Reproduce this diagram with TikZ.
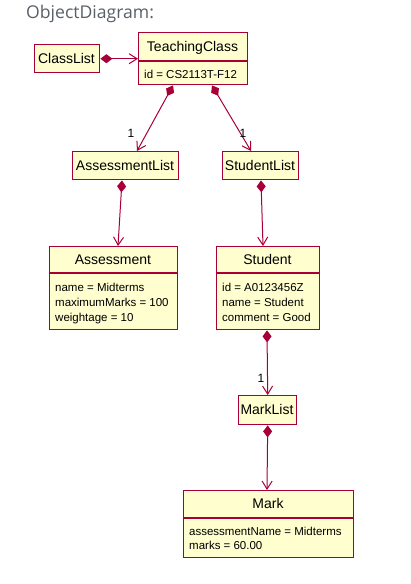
\documentclass[tikz,border=0pt]{standalone}
\usepackage{fontspec}
\setmainfont{Liberation Sans}
\newfontfamily\titlefont{Open Sans}
\usetikzlibrary{arrows.meta,calc}
\definecolor{umlred}{HTML}{A80036}
\definecolor{umlfill}{HTML}{FEFECE}
\definecolor{titlegray}{HTML}{5A6067}
\begin{document}
\begin{tikzpicture}[x=1pt,y=-1pt,
  objbox/.style={draw=umlred, fill=umlfill, line width=1.4pt, inner sep=0pt,
    anchor=north west, minimum width=#1},
  hdr/.style={font=\fontsize{14}{16}\selectfont, inner sep=0pt, anchor=base},
  attr/.style={font=\fontsize{11.5}{14}\selectfont, inner sep=0pt, anchor=base west},
  divider/.style={draw=umlred, line width=1.2pt},
  comp/.style={draw=umlred, line width=1pt,
    {Diamond[length=12pt,width=9pt]}-{Straight Barb[length=8pt,width=10pt,line width=1pt]}},
  mult/.style={font=\fontsize{12}{13}\selectfont, inner sep=0pt}]

\useasboundingbox[fill=white] (0,0) rectangle (411,584);

% title
\node[font=\titlefont\fontsize{17.6}{20}\selectfont, text=titlegray, inner sep=0pt,
  anchor=base west] (title) at (26,18.3) {ObjectDiagram:};

% ClassList
\node[objbox=65pt, minimum height=28pt] (classlist) at (34,44) {};
\node[hdr] (classlistname) at (66.5,63) {ClassList};

% TeachingClass
\node[objbox=109pt, minimum height=52pt] (teaching) at (138,32) {};
\draw[divider] (teaching.west |- 0,61) -- (teaching.east |- 0,61);
\node[hdr] (teachingname) at (192.5,51.5) {TeachingClass};
\node[attr] (teachingid) at (144,78) {id = CS2113T-F12};

% AssessmentList and StudentList
\node[objbox=106pt, minimum height=28pt] (assesslist) at (72,151) {};
\node[hdr] (assesslistname) at (125,170) {AssessmentList};
\node[objbox=76pt, minimum height=28pt] (studentlist) at (222,151) {};
\node[hdr] (studentlistname) at (260,170) {StudentList};

% Assessment
\node[objbox=128pt, minimum height=83pt] (assessment) at (49,246) {};
\draw[divider] (assessment.west |- 0,273) -- (assessment.east |- 0,273);
\node[hdr] (assessmentname) at (113,264.5) {Assessment};
\node[attr] (assessA) at (55,291.5) {name = Midterms};
\node[attr] (assessB) at (55,306.5) {maximumMarks = 100};
\node[attr] (assessC) at (55,321.5) {weightage = 10};

% Student
\node[objbox=103pt, minimum height=83pt] (student) at (216,246) {};
\draw[divider] (student.west |- 0,273) -- (student.east |- 0,273);
\node[hdr] (studentname) at (267.5,264.5) {Student};
\node[attr] (studentA) at (222,291.5) {id = A0123456Z};
\node[attr] (studentB) at (222,306.5) {name = Student};
\node[attr] (studentC) at (222,321.5) {comment = Good};

% MarkList
\node[objbox=58pt, minimum height=29pt] (marklist) at (238,395) {};
\node[hdr] (marklistname) at (267,414.5) {MarkList};

% Mark
\node[objbox=170pt, minimum height=67pt] (mark) at (183,490) {};
\draw[divider] (mark.west |- 0,518) -- (mark.east |- 0,518);
\node[hdr] (markname) at (268,508.5) {Mark};
\node[attr] (markA) at (189,535.5) {assessmentName = Midterms};
\node[attr] (markB) at (189,549.5) {marks = 60.00};

% compositions
\draw[comp] (classlist.east) -- (teaching.west);
\draw[comp] ($(teaching.south west)+(35,0)$) -- ($(assesslist.north west)+(65,0)$);
\draw[comp] ($(teaching.south west)+(74,0)$) -- ($(studentlist.north west)+(29,0)$);
\draw[comp] ($(assesslist.south west)+(50,0)$) -- ($(assessment.north west)+(69,0)$);
\draw[comp] ($(studentlist.south west)+(39,0)$) -- ($(student.north west)+(47,0)$);
\draw[comp] ($(student.south west)+(51,0)$) -- (marklist.north);
\draw[comp] (marklist.south) -- ($(mark.north west)+(84,0)$);

% multiplicities
\node[mult] (multA) at (131,133) {1};
\node[mult] (multB) at (243,133) {1};
\node[mult] (multC) at (261,378) {1};
\end{tikzpicture}
\end{document}
